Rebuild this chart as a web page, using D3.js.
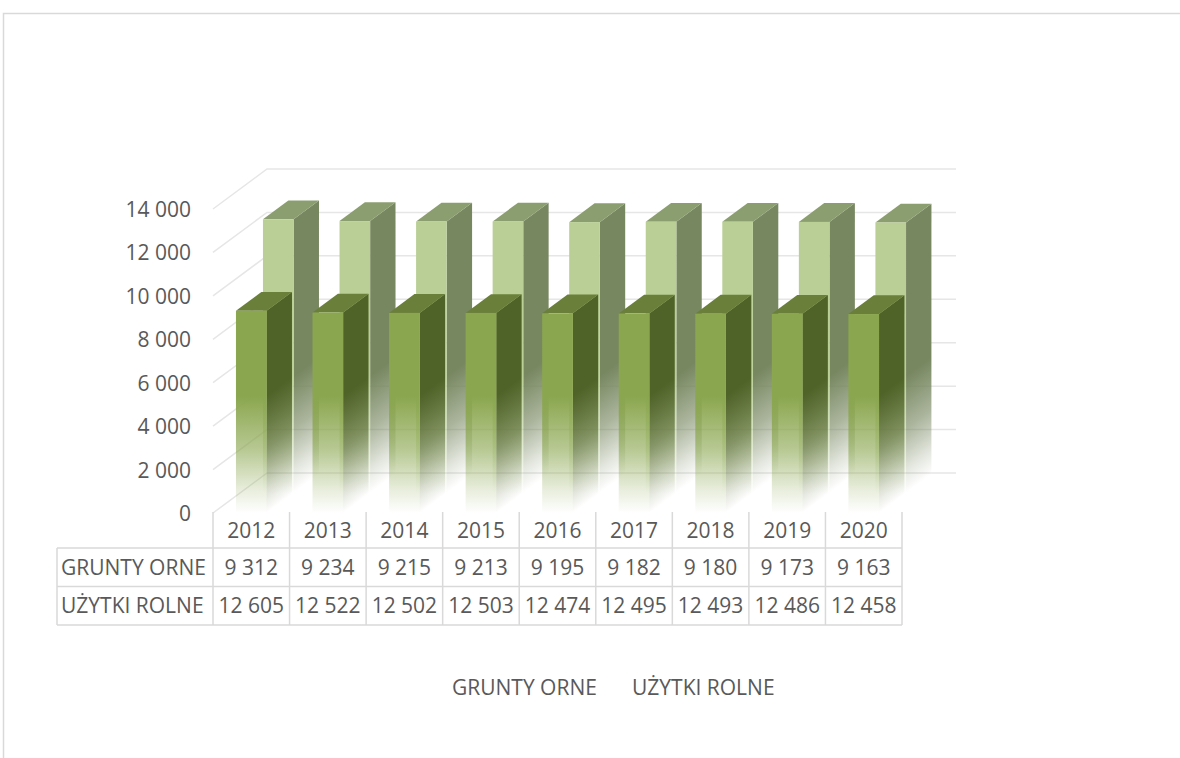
<!DOCTYPE html>
<html lang="pl">
<head>
<meta charset="utf-8">
<title>Grunty orne i użytki rolne 2012–2020</title>
<script src="https://cdn.jsdelivr.net/npm/d3@7"></script>
<style>
  html, body { margin: 0; padding: 0; background: #fff; }
  svg { display: block; }
  text { font-family: "Open Sans", "Noto Sans", sans-serif; fill: #595959; }
</style>
</head>
<body>
<svg id="chart" width="1180" height="758"></svg>
<script>
// Years shown on the category axis and in the data table
const years = ["2012", "2013", "2014", "2015", "2016", "2017", "2018", "2019", "2020"];
// Area in hectares per year
const gruntyOrne  = [9312, 9234, 9215, 9213, 9195, 9182, 9180, 9173, 9163];
const uzytkiRolne = [12605, 12522, 12502, 12503, 12474, 12495, 12493, 12486, 12458];
const seriesNames = ["GRUNTY ORNE", "UŻYTKI ROLNE"];
const yTicks = [0, 2000, 4000, 6000, 8000, 10000, 12000, 14000];

const W = 1180, H = 758;
const svg = d3.select("#chart");
const FONT = 21;

// Polish number style: space as thousands separator
const fmt = d3.formatLocale({ decimal: ",", thousands: "\u00a0", grouping: [3], currency: ["", ""] }).format(",d");

// Front plane of the 3D plot
const x = d3.scaleBand().domain(years).range([213, 902]).padding(0);
const y = d3.scaleLinear().domain([0, 14000]).range([513, 209]);

// Oblique depth: full floor depth and one bar's depth
const floor = { dx: 54, dy: -40 };
const barDepth = 0.47;
const rows = [
  { name: seriesNames[1], values: uzytkiRolne, z: 0.5,
    front: "#b9cf95", top: "#8b9e6f", side: "#778760" },
  { name: seriesNames[0], values: gruntyOrne, z: 0.0,
    front: "#8aa64e", top: "#6a7f3a", side: "#4f6228" }
];
const barW = x.bandwidth() * 0.4;

// Chart frame
svg.append("rect").attr("width", W).attr("height", H).attr("fill", "#fff");
svg.append("path")
  .attr("d", `M3.5,${H} V13.5 H${W}`)
  .attr("fill", "none").attr("stroke", "#d9d9d9").attr("stroke-width", 1.5);

// Fading gradients: solid in the upper part, fading out toward the floor
const defs = svg.append("defs");
function fadeGradient(id, color) {
  const g = defs.append("linearGradient").attr("id", id)
    .attr("gradientUnits", "userSpaceOnUse")
    .attr("x1", 0).attr("x2", 0)
    .attr("y1", y(5400)).attr("y2", y(0));
  [[0, 1], [0.45, 0.62], [0.8, 0.2], [1, 0.0]].forEach(([o, a]) =>
    g.append("stop").attr("offset", o).attr("stop-color", color).attr("stop-opacity", a));
  return `url(#${id})`;
}
rows.forEach((r, i) => {
  r.frontFill = fadeGradient("fadeFront" + i, r.front);
  r.sideFill = fadeGradient("fadeSide" + i, r.side);
});

// Gridlines on the side wall and the back wall
const grid = svg.append("g").attr("stroke", "#e6e6e6").attr("stroke-width", 1.5).attr("fill", "none");
const x0 = x.range()[0], x1 = x.range()[1];
grid.selectAll("path").data(yTicks).join("path")
  .attr("d", t => `M${x0},${y(t)} L${x0 + floor.dx},${y(t) + floor.dy} H${x1 + floor.dx}`);

// Value axis labels
const axis = svg.append("g")
  .attr("transform", `translate(${x0},0)`)
  .call(d3.axisLeft(y).tickValues(yTicks).tickSize(0).tickPadding(22).tickFormat(fmt));
axis.select(".domain").remove();
axis.selectAll("text")
  .attr("font-size", FONT).attr("font-family", null).attr("fill", "#595959")
  .attr("dy", "0.36em");

// 3D columns: back row first, then the front row
const dxB = floor.dx * barDepth, dyB = floor.dy * barDepth;
const k = dyB / dxB;
rows.forEach(r => {
  const ox = floor.dx * r.z, oy = floor.dy * r.z;
  const row = svg.append("g").attr("transform", `translate(${ox},${oy})`);
  const bars = row.selectAll("g.bar").data(years.map((yr, i) => ({ yr, v: r.values[i] })))
    .join("g").attr("class", "bar");

  // Right side face, drawn in a sheared frame so the fade follows the depth
  bars.append("g")
    .attr("transform", d => {
      const xr = x(d.yr) + (x.bandwidth() - barW) / 2 + barW;
      return `matrix(1,${k},0,1,0,${-k * xr})`;
    })
    .append("rect")
    .attr("x", d => x(d.yr) + (x.bandwidth() - barW) / 2 + barW)
    .attr("width", dxB)
    .attr("y", d => y(d.v))
    .attr("height", d => y(0) - y(d.v))
    .attr("fill", r.sideFill);

  // Top face
  bars.append("path")
    .attr("d", d => {
      const xl = x(d.yr) + (x.bandwidth() - barW) / 2, yt = y(d.v);
      return `M${xl},${yt} H${xl + barW} l${dxB},${dyB} H${xl + dxB} Z`;
    })
    .attr("fill", r.top);

  // Front face
  bars.append("rect")
    .attr("x", d => x(d.yr) + (x.bandwidth() - barW) / 2)
    .attr("width", barW)
    .attr("y", d => y(d.v))
    .attr("height", d => y(0) - y(d.v))
    .attr("fill", r.frontFill);
});

// Data table under the plot
const tbl = svg.append("g").attr("stroke", "#d9d9d9").attr("stroke-width", 1.5).attr("fill", "none");
const rowTop = [512, 548, 586.5, 625];
const tableLeft = 57;
const bounds = years.map(yr => x(yr)).concat([x1]);
// vertical dividers between year columns
tbl.selectAll("line.v").data(bounds).join("line")
  .attr("x1", d => d).attr("x2", d => d)
  .attr("y1", rowTop[0]).attr("y2", rowTop[3]);
// left border of row labels
tbl.append("line").attr("x1", tableLeft).attr("x2", tableLeft).attr("y1", rowTop[1]).attr("y2", rowTop[3]);
// horizontal rules
tbl.selectAll("line.h").data(rowTop.slice(1)).join("line")
  .attr("x1", tableLeft).attr("x2", x1)
  .attr("y1", d => d).attr("y2", d => d);

const cellText = svg.append("g").attr("font-size", FONT);
const rowMid = i => (rowTop[i] + rowTop[i + 1]) / 2;
cellText.selectAll("text.yr").data(years).join("text")
  .attr("x", d => x(d) + x.bandwidth() / 2).attr("y", rowMid(0))
  .attr("dy", "0.36em").attr("text-anchor", "middle").text(d => d);

const tableRows = [
  { name: seriesNames[0], values: gruntyOrne },
  { name: seriesNames[1], values: uzytkiRolne }
];
tableRows.forEach((tr, i) => {
  cellText.append("text").attr("x", tableLeft + 4).attr("y", rowMid(i + 1))
    .attr("dy", "0.36em").text(tr.name);
  cellText.selectAll(null).data(tr.values).join("text")
    .attr("x", (d, j) => x(years[j]) + x.bandwidth() / 2).attr("y", rowMid(i + 1))
    .attr("dy", "0.36em").attr("text-anchor", "middle").text(d => fmt(d));
});

// Legend
const legendX = [452, 632];
svg.append("g").attr("font-size", FONT)
  .selectAll("text").data(seriesNames).join("text")
  .attr("x", (d, i) => legendX[i]).attr("y", 687).attr("dy", "0.36em")
  .text(d => d);
</script>
</body>
</html>
